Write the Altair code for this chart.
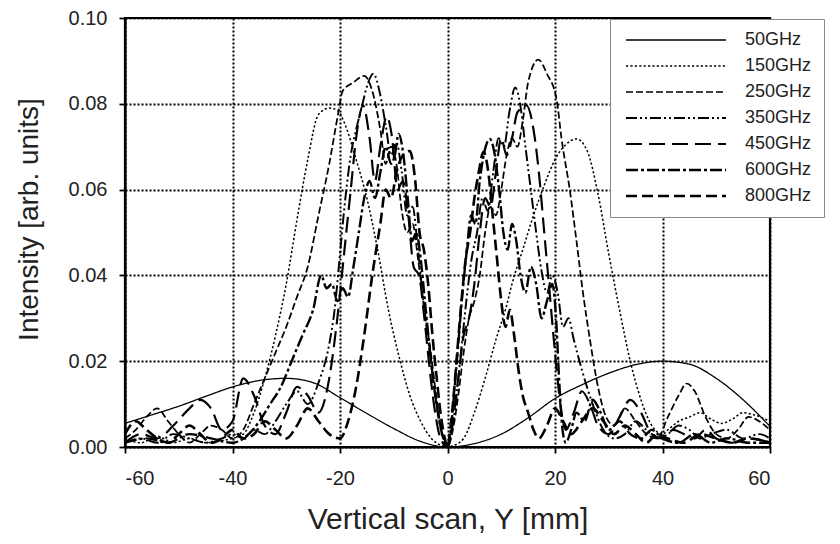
import altair as alt
import pandas as pd

SERIES = ["50GHz", "150GHz", "250GHz", "350GHz", "450GHz", "600GHz", "800GHz"]

X_TICKS = [-60, -40, -20, 0, 20, 40, 60]
Y_TICKS = [0.0, 0.02, 0.04, 0.06, 0.08, 0.10]

S50 = [(-60, .0055), (-55, .0075), (-50, .0095), (-45, .0118), (-40, .0140), (-35, .0155),
       (-30, .0160), (-25, .0150), (-20, .0115), (-15, .0078), (-10, .0043), (-5, .0013),
       (0, 0.0), (5, .0008), (10, .0030), (15, .0068), (20, .0113), (25, .0145), (30, .0172),
       (35, .0192), (40, .0200), (45, .0193), (50, .0160), (55, .0110), (60, .0048)]

S150 = [(-60, .002), (-57, .001), (-54, .0025), (-51, .001), (-48, .002), (-45, .001), (-42, .0015),
        (-40, .002), (-38, .003), (-36, .008), (-34, .016), (-32, .026), (-30, .038), (-28, .053),
        (-26, .067), (-24, .0775), (-22, .079), (-20.5, .0785), (-19, .075), (-17, .067), (-15, .058),
        (-13, .046), (-11, .032), (-9, .021), (-7, .012), (-5, .006), (-3, .002), (-1, .0003), (0, 0.0),
        (1, .0003), (3, .002), (5, .008), (7, .016), (9, .025), (11, .033), (12, .038), (14, .046),
        (16, .054), (18, .061), (20, .067), (22, .0705), (24, .0718), (26, .069), (28, .059), (30, .045),
        (32, .032), (34, .020), (36, .011), (38, .005), (40, .003), (41, .004), (43, .006), (45, .007),
        (47, .008), (49, .0065), (51, .0055), (53, .0065), (55, .008), (57, .0075), (60, .006)]

S250 = [(-60, .002), (-58, .004), (-56, .007), (-54, .009), (-52, .006), (-50, .003), (-48, .001),
        (-46, .003), (-44, .005), (-42, .004), (-40, .002), (-38, .004), (-36, .010), (-34, .016),
        (-32, .022), (-30, .028), (-28, .035), (-26, .042), (-24, .054), (-22, .066), (-20.3, .078),
        (-19.5, .083), (-17.5, .085), (-15.5, .0865), (-14, .083), (-12.5, .074), (-11.5, .066),
        (-10.5, .070), (-9.5, .066), (-8.5, .055), (-7.5, .050), (-6.5, .052), (-5.5, .044), (-4.5, .034),
        (-3, .021), (-2, .011), (-1, .003), (0, 0.0), (1, .004), (2, .012), (3, .022), (4, .030),
        (5, .034), (6, .040), (7, .050), (8, .056), (9, .054), (10, .060), (11, .068), (12, .072),
        (13, .070), (14, .076), (15, .085), (16.9, .0903), (18.5, .087), (20.3, .081), (21.2, .072),
        (22.8, .0595), (24, .048), (25.2, .036), (26.5, .025), (28, .014), (29.5, .007), (31, .005),
        (33, .009), (35, .006), (37, .003), (39, .002), (41, .007), (43, .012), (44.5, .0148), (46, .013),
        (48, .007), (50, .003), (52, .002), (54, .004), (56, .007), (58, .006), (60, .004)]

S350 = [(-60, .001), (-57, .002), (-54, .001), (-51, .003), (-48, .002), (-45, .001), (-42, .002),
        (-40, .003), (-38, .002), (-36, .004), (-34, .003), (-32, .006), (-30, .010), (-28, .013),
        (-26, .010), (-24, .015), (-22, .024), (-21, .032), (-20, .045), (-19, .058), (-18, .068),
        (-17, .074), (-16, .079), (-15, .084), (-13.8, .087), (-12.5, .082), (-11.5, .075), (-10.5, .068),
        (-9.5, .071), (-8.5, .064), (-7.5, .054), (-6.5, .056), (-5.5, .046), (-4.5, .034), (-3.5, .024),
        (-2.5, .014), (-1.5, .006), (-0.5, .001), (0, 0.0), (0.5, .002), (1.5, .010), (2.5, .022),
        (3.5, .034), (4.5, .044), (5.5, .050), (6.5, .058), (7.5, .055), (8.5, .064), (9.5, .072),
        (10.5, .070), (11.5, .078), (12.6, .0838), (13.5, .080), (14.5, .070), (15.5, .060), (16.5, .050),
        (17.5, .041), (18.5, .036), (19.5, .040), (20.5, .036), (21.5, .028), (22.5, .030), (23.5, .025),
        (25, .018), (27, .010), (29, .004), (31, .002), (33, .003), (35, .006), (37, .004), (39, .002),
        (41, .003), (43, .005), (45, .004), (47, .002), (49, .003), (52, .004), (55, .002), (58, .003),
        (60, .002)]

S450 = [(-60, .001), (-57, .003), (-54, .002), (-51, .005), (-48, .009), (-46, .011), (-44, .009),
        (-42, .004), (-40, .006), (-38, .016), (-36, .012), (-34, .005), (-32, .003), (-30, .008),
        (-28, .014), (-26, .012), (-24, .008), (-22, .016), (-20.5, .030), (-19, .048), (-18, .060),
        (-17, .072), (-15.7, .0796), (-14.5, .072), (-13.5, .062), (-12.5, .070), (-11.3, .077),
        (-10.3, .072), (-9.3, .060), (-8.3, .062), (-7.3, .054), (-6.3, .042), (-5.3, .040), (-4.3, .030),
        (-3.3, .018), (-2.3, .008), (-1.3, .002), (0, 0.0), (1, .006), (2, .016), (3, .026), (4, .030),
        (5, .038), (6, .050), (7, .058), (8, .056), (9, .064), (10, .072), (11, .068), (12, .072),
        (13, .078), (14.7, .0796), (16, .074), (17, .064), (18, .050), (19, .036), (20, .022), (21, .010),
        (22, .004), (23.5, .008), (25, .013), (26.5, .010), (28, .005), (30, .003), (32, .007), (34, .011),
        (36, .008), (38, .003), (40, .002), (42, .004), (44, .003), (46, .002), (48, .004), (50, .002),
        (53, .001), (56, .002), (60, .001)]

S600 = [(-60, .001), (-56, .002), (-52, .001), (-48, .003), (-44, .002), (-40, .001), (-37, .003),
        (-35, .006), (-33, .010), (-31, .014), (-29, .020), (-27, .026), (-25, .032), (-23.5, .040),
        (-22.5, .037), (-21.5, .038), (-20.5, .034), (-19.5, .037), (-18.5, .035), (-17.5, .042),
        (-16.5, .050), (-15.5, .058), (-14.5, .062), (-13.5, .058), (-12.5, .064), (-11.5, .070),
        (-10.5, .066), (-9.8, .068), (-9.1, .073), (-8.2, .068), (-7.4, .058), (-6.6, .048), (-5.8, .050),
        (-5, .044), (-4.2, .034), (-3.4, .024), (-2.6, .015), (-1.8, .008), (-1, .003), (0, 0.0),
        (0.6, .004), (1.2, .012), (2, .024), (2.8, .036), (3.6, .046), (4.4, .054), (5.2, .052), (6, .062),
        (6.9, .069), (7.9, .0718), (8.8, .068), (9.6, .060), (10.4, .050), (11.2, .046), (12, .052),
        (12.8, .048), (13.6, .040), (14.5, .036), (15.5, .042), (16.5, .038), (17.5, .030), (18.5, .034),
        (19.5, .038), (20.2, .030), (20.8, .015), (21.4, .004), (22, .001), (23, .004), (24, .008),
        (25.5, .006), (27, .011), (28.5, .008), (30, .004), (32, .006), (34, .003), (36, .002), (38, .004),
        (40, .002), (43, .001), (46, .003), (49, .001), (52, .002), (56, .001), (60, .001)]

S800 = [(-60, .003), (-58, .006), (-56, .004), (-54, .002), (-52, .001), (-50, .003), (-48, .005),
        (-46, .003), (-44, .001), (-42, .002), (-40, .004), (-38, .002), (-36, .003), (-34, .006),
        (-32, .004), (-30, .002), (-28, .005), (-26, .009), (-24, .006), (-22, .003), (-20, .002),
        (-18.5, .006), (-17, .014), (-15.5, .026), (-14, .040), (-12.5, .052), (-11.5, .060), (-10.5, .058),
        (-9.5, .064), (-8.3, .068), (-7, .069), (-6, .062), (-5.2, .050), (-4.4, .046), (-3.6, .038),
        (-2.8, .026), (-2, .016), (-1.2, .007), (-0.5, .002), (0, 0.0), (0.5, .004), (1, .010), (1.8, .022),
        (2.6, .034), (3.4, .044), (4.2, .050), (5, .058), (5.8, .064), (6.7, .0688), (7.6, .064), (8.4, .054),
        (9.2, .044), (10, .034), (10.8, .028), (11.6, .032), (12.4, .026), (13.2, .018), (14, .012),
        (15, .008), (16, .004), (17, .002), (18.5, .005), (20, .009), (21.5, .006), (23, .003), (25, .006),
        (27, .009), (29, .006), (31, .003), (33, .005), (35, .003), (37, .001), (39, .003), (41, .002),
        (44, .001), (47, .003), (50, .002), (53, .001), (56, .002), (60, .001)]

ALL = [S50, S150, S250, S350, S450, S600, S800]

DASHES = [[1, 0], [2.2, 2.2], [7, 3], [11, 3, 2, 3, 2, 3], [16, 7], [12, 3, 3, 3], [11, 5]]
WIDTHS = [1.3, 2.6, 1.4, 1.4, 1.4, 1.4, 1.4]

rows = []
for name, pts in zip(SERIES, ALL):
    for x, y in pts:
        rows.append({"pos": x, "intensity": y, "series": name})
df = pd.DataFrame(rows)

FONT = "Liberation Sans"

chart = alt.Chart(df).mark_line(color="black", interpolate="monotone", clip=True).encode(
    x=alt.X("pos:Q", scale=alt.Scale(domain=[-60, 60], nice=False, zero=False),
            axis=alt.Axis(values=X_TICKS, title="Vertical scan, Y [mm]", labelPadding=15,
                          labelExpr="datum.value < 0 ? '-' + abs(datum.value) : '' + datum.value",
                          titlePadding=16, titleFontSize=30)),
    y=alt.Y("intensity:Q", scale=alt.Scale(domain=[0, 0.1], nice=False),
            axis=alt.Axis(values=Y_TICKS, format=".2f", title="Intensity [arb. units]",
                          labelPadding=12, titleFontSize=28, titleX=-82, titleY=201)),
    strokeDash=alt.StrokeDash("series:N", scale=alt.Scale(domain=SERIES, range=DASHES),
                              legend=alt.Legend(title=None, orient="none", legendX=485, legendY=1,
                                                symbolType="M-10,0H10", symbolSize=100,
                                                symbolOffset=45, labelOffset=60,
                                                symbolStrokeWidth=2, symbolStrokeColor="black",
                                                labelFont=FONT, labelFontSize=18, labelColor="#222",
                                                padding=12, strokeColor="#888",
                                                fillColor="white", rowPadding=8)),
    strokeWidth=alt.StrokeWidth("series:N", scale=alt.Scale(domain=SERIES, range=WIDTHS), legend=None),
).properties(
    width=645, height=429,
    autosize=alt.AutoSizeParams(type="none"),
    padding={"left": 117, "top": 10, "right": 62, "bottom": 89},
).configure_view(
    stroke="black", strokeWidth=2.2
).configure_axis(
    domainColor="black", domainWidth=2.2, tickColor="black", tickWidth=1.8, tickSize=6,
    grid=True, gridColor="black", gridDash=[2, 2], gridWidth=2, gridOpacity=1,
    labelFont=FONT, labelFontSize=20, labelColor="#222",
    titleFont=FONT, titleFontWeight="normal", titleColor="#222",
)

chart.save("out.html", embed_options={"renderer": "svg", "actions": False})
